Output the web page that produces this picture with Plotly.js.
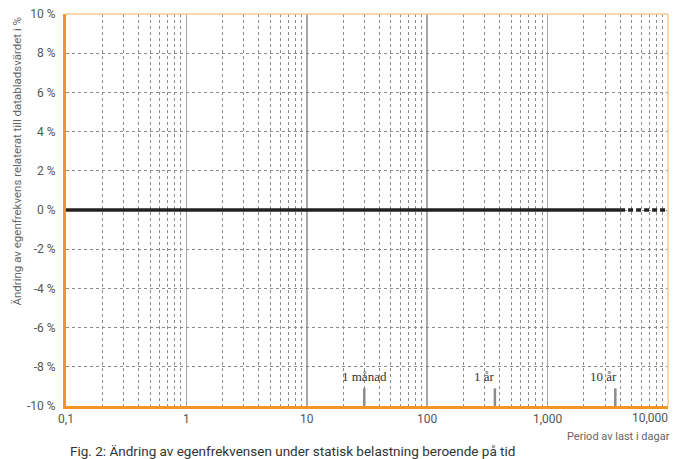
<!DOCTYPE html>
<html>
<head>
<meta charset="utf-8">
<script src="https://cdn.plot.ly/plotly-3.0.1.min.js"></script>
<style>
  html, body { margin: 0; padding: 0; background: #fff; }
  #chart { width: 674px; height: 459px; }
</style>
</head>
<body>
<div id="chart"></div>
<script>
// Change of natural frequency under static load, by load period (days)
const measuredDays = [0.1, 4000];
const measuredChange = [0, 0];
const projectedDays = [4000, 10000];
const projectedChange = [0, 0];

// Reference periods marked on the time axis
const markerDays = [30, 365, 3650];
const markerLabels = ['1 månad', '1 år', '10 år'];
const markerBase = -10;
const markerTop = -9.1;
const markerLabelLevel = -8.52;

// Axis ticks
const xTickVals = [0.1, 1, 10, 100, 1000];
const xTickText = ['0,1', '1', '10', '100', '1,000'];
const xLastTick = '10,000';
const yTickVals = [-10, -8, -6, -4, -2, 0, 2, 4, 6, 8, 10];
const yTickText = ['-10 %', '-8 %', '-6 %', '-4 %', '-2 %', '0 %', '2 %', '4 %', '6 %', '8 %', '10 %'];

const orange = '#f39524';
const orangeLight = '#f8c890';

// dashed minor grid between decades
const minorVals = [];
[0.1, 1, 10, 100, 1000].forEach(d => { for (let k = 2; k <= 9; k++) minorVals.push(d * k); });

// vertical reference bars
const barX = [], barY = [];
markerDays.forEach(d => { barX.push(d, d, null); barY.push(markerBase, markerTop, null); });

const traces = [
  { x: barX, y: barY, mode: 'lines', line: { color: '#8c8c8c', width: 2.5 }, hoverinfo: 'skip', showlegend: false },
  { x: measuredDays, y: measuredChange, mode: 'lines', line: { color: '#222222', width: 3.5 }, showlegend: false },
  { x: projectedDays, y: projectedChange, mode: 'lines', line: { color: '#222222', width: 3.5, dash: '5px,3px' }, showlegend: false }
];

const labelFont = { family: '"Liberation Serif", "DejaVu Serif", serif', size: 13, color: '#333' };
const annotations = [
  { x: Math.log10(markerDays[0]), y: markerLabelLevel, xref: 'x', yref: 'y', text: markerLabels[0], showarrow: false, xanchor: 'center', yanchor: 'middle', font: labelFont },
  { x: Math.log10(markerDays[1]), y: markerLabelLevel, xref: 'x', yref: 'y', text: markerLabels[1], showarrow: false, xanchor: 'right', xshift: 2, yanchor: 'middle', font: labelFont },
  { x: Math.log10(markerDays[2]), y: markerLabelLevel, xref: 'x', yref: 'y', text: markerLabels[2], showarrow: false, xanchor: 'right', xshift: 4, yanchor: 'middle', font: labelFont },
  { x: 1.0035, y: 0, xref: 'paper', yref: 'paper', text: xLastTick, showarrow: false, xanchor: 'right', yanchor: 'top', yshift: -3, font: { family: 'Roboto, sans-serif', size: 12, color: '#555' } },
  { x: 1.0066, y: 0, xref: 'paper', yref: 'paper', text: 'Period av last i dagar', showarrow: false, xanchor: 'right', yanchor: 'middle', yshift: -30, font: { family: 'Roboto, sans-serif', size: 11, color: '#666' } },
  { x: 0.0033, y: 0, xref: 'paper', yref: 'paper', text: 'Fig. 2: Ändring av egenfrekvensen under statisk belastning beroende på tid', showarrow: false, xanchor: 'left', yanchor: 'middle', yshift: -45, font: { family: 'Roboto, sans-serif', size: 13.5, color: '#333' } },
  { x: -0.0830, y: 0.9974, xref: 'paper', yref: 'paper', text: 'Ändring av egenfrekvens relaterat till databladsvärdet i %', showarrow: false, textangle: -90, xanchor: 'center', yanchor: 'top', font: { family: 'Roboto, sans-serif', size: 11.5, color: '#666' } }
];

const layout = {
  width: 674, height: 459,
  margin: { l: 66, r: 6, t: 14, b: 53 },
  paper_bgcolor: '#fff', plot_bgcolor: '#fff',
  showlegend: false,
  xaxis: {
    type: 'log', range: [-1, 4],
    tickvals: xTickVals, ticktext: xTickText,
    tickfont: { family: 'Roboto, sans-serif', size: 12, color: '#555' },
    showgrid: true, gridcolor: '#a8a8a8', gridwidth: 1.5,
    minor: { tickvals: minorVals, showgrid: true, gridcolor: '#8a8a8a', gridwidth: 1, griddash: '3px,3px' },
    showline: true, linecolor: orange, linewidth: 3,
    zeroline: false, ticks: ''
  },
  yaxis: {
    range: [-10, 10],
    tickvals: yTickVals, ticktext: yTickText,
    tickfont: { family: 'Roboto, sans-serif', size: 12, color: '#555' },
    showgrid: true, gridcolor: '#8a8a8a', gridwidth: 1, griddash: '3px,3px',
    showline: true, linecolor: orange, linewidth: 3,
    zeroline: false, ticks: '', ticklabelstandoff: 5
  },
  shapes: [
    { type: 'line', xref: 'paper', yref: 'paper', x0: 0, x1: 1, y0: 1, y1: 1, line: { color: orangeLight, width: 1.5 } },
    { type: 'line', xref: 'paper', yref: 'paper', x0: 1, x1: 1, y0: 0, y1: 1, line: { color: orangeLight, width: 1.5 } }
  ],
  annotations: annotations
};

Plotly.newPlot('chart', traces, layout, { displayModeBar: false, staticPlot: true });
</script>
</body>
</html>
